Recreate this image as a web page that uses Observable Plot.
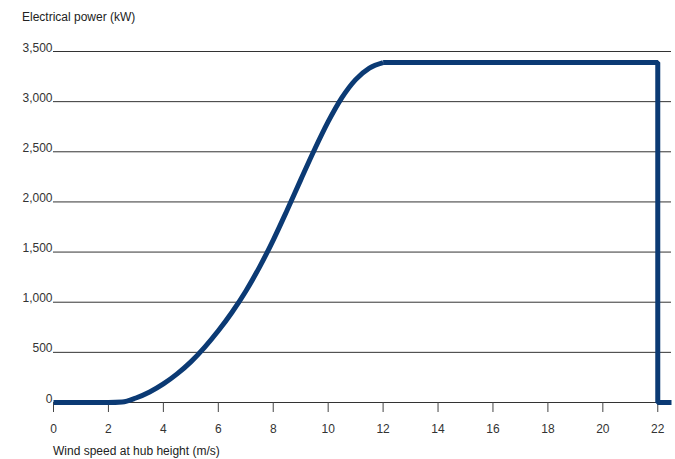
<!DOCTYPE html>
<html>
<head>
<meta charset="utf-8">
<script src="https://cdn.jsdelivr.net/npm/d3@7"></script>
<script src="https://cdn.jsdelivr.net/npm/@observablehq/plot@0.6"></script>
<style>
  html, body { margin: 0; padding: 0; background: #fff; }
  body { width: 675px; height: 459px; position: relative; overflow: hidden;
         font-family: "Liberation Sans", Arial, Helvetica, sans-serif; color: #222; }
  .lbl { position: absolute; font-size: 12px; line-height: 12px; white-space: nowrap; color: #222; }
  #chart { position: absolute; left: 0; top: 30px; }
</style>
</head>
<body>
<div class="lbl" id="ytitle" style="left:22px; top:11px;">Electrical power (kW)</div>
<div id="chart"></div>
<div class="lbl" id="xtitle" style="left:53px; top:445px;">Wind speed at hub height (m/s)</div>
<script>
// Rising part of the power curve (smooth)
const riseSpeed = [0, 0.5, 1, 1.5, 2, 2.5, 3, 3.5, 4, 4.5, 5, 5.5, 6, 6.5, 7, 7.5, 8, 8.5, 9, 9.5, 10, 10.5, 11, 11.5, 12];
const risePower = [0, 0, 0, 0, 0, 5, 45, 105, 185, 285, 405, 550, 715, 900, 1110, 1350, 1620, 1915, 2220, 2520, 2800, 3040, 3220, 3335, 3390];
// Rated plateau, cut-out at 22 m/s
const flatSpeed = [12, 22, 22, 22.5];
const flatPower = [3390, 3390, 0, 0];
const xTicks = [0, 2, 4, 6, 8, 10, 12, 14, 16, 18, 20, 22];
const yTicks = [0, 500, 1000, 1500, 2000, 2500, 3000, 3500];

const rise = riseSpeed.map((s, i) => ({speed: s, power: risePower[i]}));
const flat = flatSpeed.map((s, i) => ({speed: s, power: flatPower[i]}));
const lineColor = "#0b3a74";

const chart = Plot.plot({
  width: 675,
  height: 408,
  marginLeft: 53,
  marginRight: 4,
  marginTop: 21,
  marginBottom: 36,
  style: {fontFamily: "'Liberation Sans', Arial, Helvetica, sans-serif", fontSize: "12px", color: "#333", background: "#fff"},
  x: {domain: [0, 22.5]},
  y: {domain: [0, 3500]},
  marks: [
    Plot.gridY(yTicks, {stroke: "#333", strokeOpacity: 1, strokeWidth: 1}),
    Plot.axisY(yTicks, {tickSize: 0, tickPadding: 1, lineAnchor: "bottom", tickFormat: d3.format(","), label: null, fill: "#333"}),
    Plot.axisX(xTicks, {tickSize: 10, tickPadding: 12, label: null, stroke: "#444", fill: "#333"}),
    Plot.line(rise, {x: "speed", y: "power", stroke: lineColor, strokeWidth: 5, curve: "monotone-x", strokeLinecap: "butt"}),
    Plot.line(flat, {x: "speed", y: "power", stroke: lineColor, strokeWidth: 5, curve: "linear", strokeLinejoin: "miter", strokeLinecap: "butt"})
  ]
});
document.getElementById("chart").appendChild(chart);
</script>
</body>
</html>
